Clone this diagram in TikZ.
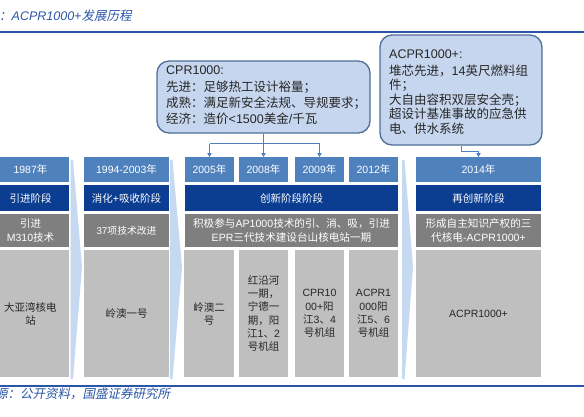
\documentclass[tikz,border=0pt]{standalone}
\usepackage{fontspec}
\usetikzlibrary{arrows.meta}
\setmainfont{Liberation Sans}
\newfontfamily\latin{Liberation Sans}
\newfontfamily\cjk{Noto Sans CJK SC}[AutoFakeSlant=0.2]
% automatic switch between Latin and CJK fonts
\XeTeXinterchartokenstate=1
\newcount\cjkcnt
\newXeTeXintercharclass\CJKcls
\def\setcjkrange#1#2{\cjkcnt=#1\relax
  \loop\XeTeXcharclass\cjkcnt=\CJKcls\relax
  \ifnum\cjkcnt<#2\relax\advance\cjkcnt by 1\relax\repeat}
\setcjkrange{"3000}{"303F}
\setcjkrange{"4E00}{"9FFF}
\setcjkrange{"FF00}{"FFEF}
\XeTeXinterchartoks 0 \CJKcls = {\cjk}
\XeTeXinterchartoks 4095 \CJKcls = {\cjk}
\XeTeXinterchartoks \CJKcls 0 = {\latin}
\XeTeXinterchartoks \CJKcls 4095 = {\latin}

\definecolor{titleblue}{HTML}{2A56A8}
\definecolor{yearblue}{HTML}{4F81BD}
\definecolor{stageblue}{HTML}{0B3D91}
\definecolor{descgray}{HTML}{7F7F7F}
\definecolor{plantgray}{HTML}{BFBFBF}
\definecolor{chevblue}{HTML}{C6D9F0}
\definecolor{calloutfill}{HTML}{C5D6EE}
\definecolor{calloutborder}{HTML}{4F6E99}
\definecolor{connblue}{HTML}{4F81BD}

\begin{document}
\begin{tikzpicture}[x=1pt,y=-1pt,
  cell/.style={inner sep=0pt, outer sep=0pt, align=center, text=white,
    font=\fontsize{10.5}{13}\selectfont},
  yearbox/.style={cell, fill=yearblue, minimum height=25pt},
  stagebox/.style={cell, fill=stageblue, minimum height=26pt},
  descbox/.style={cell, fill=descgray, minimum height=33pt},
  plantbox/.style={cell, fill=plantgray, minimum height=127pt, text=black!85},
  callout/.style={draw=calloutborder, fill=calloutfill, line width=1.3pt,
    rounded corners=12pt, inner sep=0pt},
  ctext/.style={inner sep=0pt, anchor=west, align=left, text=black!85,
    font=\fontsize{12.5}{16.3}\selectfont},
  conn/.style={draw=connblue, line width=0.8pt},
  arr/.style={conn, -{Triangle[length=4pt,width=4.5pt]}},
  chev/.style={fill=chevblue, draw=none}
]
\useasboundingbox (0,0) rectangle (584,416);
\clip (0,0) rectangle (584,416);
\fill[white] (0,0) rectangle (584,416);

% title and rules
\node[anchor=base west, inner sep=0pt, text=titleblue,
  font=\fontsize{12.5}{15}\selectfont\itshape] (title) at (-1,20.5) {：ACPR1000+发展历程};
\draw[titleblue, line width=2pt] (0,32) -- (584,32);
\draw[titleblue, line width=1.8pt] (0,386) -- (584,386);
\node[anchor=base west, inner sep=0pt, text=titleblue,
  font=\fontsize{12.5}{15}\selectfont\itshape] (source) at (-5,398.7) {源：公开资料，国盛证券研究所};

% light blue chevrons between columns
\fill[chev] (70.5,160) -- (73,160) -- (82,267) -- (73,379) -- (70.5,379) -- cycle;
\fill[chev] (170,160) -- (172.5,160) -- (182,267) -- (172.5,379) -- (170,379) -- cycle;
\fill[chev] (402,160) -- (404.5,160) -- (413,267) -- (404.5,379) -- (402,379) -- cycle;

% column 1
\node[yearbox, minimum width=77pt] (y1987) at (30.5,169.5) {1987年};
\node[stagebox, minimum width=77pt] (s1) at (30.5,198) {引进阶段};
\node[descbox, minimum width=77pt, font=\fontsize{10.5}{14}\selectfont] (d1) at (30.5,230.5) {引进\\M310技术};
\node[plantbox, minimum width=77pt] (p1) at (30.5,313.5) {大亚湾核电\\站};

% column 2
\node[yearbox, minimum width=85pt] (y1994) at (126.5,169.5) {1994-2003年};
\node[stagebox, minimum width=85pt] (s2) at (126.5,198) {消化+吸收阶段};
\node[descbox, minimum width=85pt, font=\fontsize{9.8}{13}\selectfont] (d2) at (126.5,230.5) {37项技术改进};
\node[plantbox, minimum width=85pt] (p2) at (126.5,313.5) {岭澳一号};

% column 3
\node[yearbox, minimum width=49pt] (y2005) at (209.5,169.5) {2005年};
\node[yearbox, minimum width=49pt] (y2008) at (263.5,169.5) {2008年};
\node[yearbox, minimum width=49pt] (y2009) at (319.5,169.5) {2009年};
\node[yearbox, minimum width=49pt] (y2012) at (373.5,169.5) {2012年};
\node[stagebox, minimum width=213pt] (s3) at (291.5,198) {创新阶段阶段};
\node[descbox, minimum width=213pt, font=\fontsize{10.6}{14}\selectfont] (d3) at (291.5,230.5)
  {积极参与AP1000技术的引、消、吸，引进\\EPR三代技术建设台山核电站一期};
\node[plantbox, minimum width=50pt] (p3a) at (209,313.5) {岭澳二\\号};
\node[plantbox, minimum width=49pt, font=\fontsize{10.5}{13.1}\selectfont] (p3b) at (263.5,313.5)
  {红沿河\\一期，\\宁德一\\期，阳\\江1、2\\号机组};
\node[plantbox, minimum width=49pt, font=\fontsize{10.5}{13.3}\selectfont] (p3c) at (319.5,313.5)
  {CPR10\\00+阳\\江3、4\\号机组};
\node[plantbox, minimum width=49pt, font=\fontsize{10.5}{13.3}\selectfont] (p3d) at (373.5,313.5)
  {ACPR1\\000阳\\江5、6\\号机组};

% column 4
\node[yearbox, minimum width=125pt] (y2014) at (478.5,169.5) {2014年};
\node[stagebox, minimum width=125pt] (s4) at (478.5,198) {再创新阶段};
\node[descbox, minimum width=125pt, font=\fontsize{10.6}{14}\selectfont] (d4) at (478.5,230.5)
  {形成自主知识产权的三\\代核电-ACPR1000+};
\node[plantbox, minimum width=125pt] (p4) at (478.5,313.5) {ACPR1000+};

% callouts
\node[callout, minimum width=213pt, minimum height=72pt] (cpr) at (263.5,97) {};
\node[ctext] (cprtext) at (166,95.5)
  {CPR1000:\\先进：足够热工设计裕量；\\成熟：满足新安全法规、导规要求；\\经济：造价<1500美金/千瓦};
\node[callout, minimum width=162pt, minimum height=110pt] (acpr) at (461,90) {};
\node[ctext, font=\fontsize{12.5}{14.4}\selectfont] (acprtext) at (389,92)
  {ACPR1000+:\\[2.5pt]堆芯先进，14英尺燃料组\\件；\\大自由容积双层安全壳；\\超设计基准事故的应急供\\电、供水系统};

% connectors
\draw[conn] (cpr.south) -- ++(0,10) coordinate (cj);
\draw[conn] (y2005.north |- cj) -- (y2009.north |- cj);
\draw[arr] (y2005.north |- cj) -- (y2005.north);
\draw[arr] (y2008.north |- cj) -- (y2008.north);
\draw[arr] (y2009.north |- cj) -- (y2009.north);
\draw[arr] (acpr.south) -- ++(0,6) -| (y2014.north);
\end{tikzpicture}
\end{document}
